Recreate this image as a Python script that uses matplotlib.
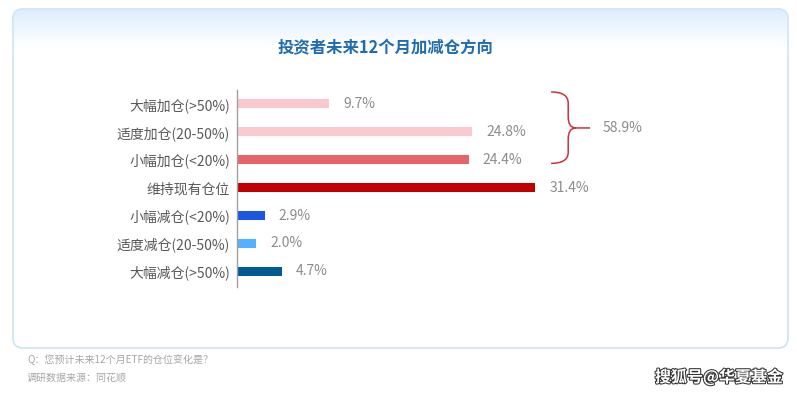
import numpy as np
import matplotlib.pyplot as plt
from matplotlib.patches import FancyBboxPatch, PathPatch
from matplotlib.path import Path
import matplotlib.patheffects as pe

plt.rcParams['font.family'] = ['Noto Sans CJK SC', 'DejaVu Sans']

categories = ['大幅加仓(>50%)', '适度加仓(20-50%)', '小幅加仓(<20%)', '维持现有仓位',
              '小幅减仓(<20%)', '适度减仓(20-50%)', '大幅减仓(>50%)']
values = [9.7, 24.8, 24.4, 31.4, 2.9, 2.0, 4.7]
group_total = 58.9  # sum of the three "add" groups
title = '投资者未来12个月加减仓方向'
footnotes = ['Q：您预计未来12个月ETF的仓位变化是？', '调研数据来源：同花顺']
watermark = '搜狐号@华夏基金'

bar_colors = ['#f8c8cc', '#f9cbd0', '#e8646c', '#c00000', '#1a56e0', '#55b0ff', '#005a94']

W, H = 797, 394
fig = plt.figure(figsize=(W / 100, H / 100), dpi=100)

# background layer in pixel coordinates
bg = fig.add_axes([0, 0, 1, 1])
bg.set_xlim(0, W)
bg.set_ylim(H, 0)
bg.axis('off')

card = FancyBboxPatch((13, 9), 775, 339, boxstyle='round,pad=0,rounding_size=10',
                      facecolor='white', edgecolor='#d2e7f5', linewidth=1.2)
bg.add_patch(card)
grad = np.linspace(0, 1, 100).reshape(-1, 1)
top_col = np.array([0.87, 0.93, 1.0])
img = top_col + (1 - top_col) * np.clip(grad * 1.2, 0, 1)[..., None]
im = bg.imshow(img, extent=(13, 788, 55, 9), aspect='auto', zorder=2)
im.set_clip_path(card)
bg.add_patch(FancyBboxPatch((13, 9), 775, 339, boxstyle='round,pad=0,rounding_size=10',
                            facecolor='none', edgecolor='#d2e7f5', linewidth=1.2, zorder=3))

bg.text(W / 2 - 13, 48, title, ha='center', va='center', fontsize=11.8,
        color='#1f6cb0', fontweight='bold', zorder=4)
bg.text(27, 360, footnotes[0], ha='left', va='center', fontsize=7.2, color='#a6a6a6')
bg.text(27, 378, footnotes[1], ha='left', va='center', fontsize=7.2, color='#a6a6a6')
bg.text(783, 377, watermark, ha='right', va='center', fontsize=11.5, color='white',
        fontweight='bold',
        path_effects=[pe.withStroke(linewidth=1.5, foreground='#333333')])

# main bar chart
x0, x1 = 237, 237 + 9.49 * 40
ytop, ybot = 90, 287
ax = fig.add_axes([x0 / W, 1 - ybot / H, (x1 - x0) / W, (ybot - ytop) / H])
ax.patch.set_alpha(0)
ypos = np.arange(len(categories))
ax.barh(ypos, values, height=0.32, color=bar_colors)
ax.set_xlim(0, 40)
ax.set_ylim(6.56, -0.5)
ax.set_yticks(ypos)
ax.set_yticklabels(categories, fontsize=10, color='#595959')
ax.tick_params(axis='y', length=0, pad=5)
ax.set_xticks([])
for s in ['top', 'right', 'bottom']:
    ax.spines[s].set_visible(False)
ax.spines['left'].set_color('#a0a0a0')
ax.spines['left'].set_linewidth(1)

for y, v in zip(ypos, values):
    ax.text(v + 1.5, y, f'{v}%', ha='left', va='center', fontsize=10, color='#8c8c8c')

# curly brace for the three "add" groups
yt, yb, ym = -0.43, 2.13, 0.86
xl, xm, xt = 33.1, 34.9, 37.2
verts = [(xl, yt), (xm, yt), (xm, yt + 0.4), (xm, ym - 0.4),
         (xm, ym), (xm + 0.8, ym), (xt, ym),
         (xm + 0.8, ym), (xm, ym), (xm, ym + 0.4),
         (xm, yb - 0.4), (xm, yb), (xl, yb)]
codes = [Path.MOVETO, Path.CURVE3, Path.CURVE3, Path.LINETO,
         Path.CURVE3, Path.CURVE3, Path.LINETO,
         Path.MOVETO, Path.CURVE3, Path.CURVE3,
         Path.LINETO, Path.CURVE3, Path.CURVE3]
ax.add_patch(PathPatch(Path(verts, codes), facecolor='none', edgecolor='#c8323c',
                       linewidth=1.1, clip_on=False))
ax.text(xt + 1.3, ym, f'{group_total}%', ha='left', va='center', fontsize=10,
        color='#8c8c8c', clip_on=False)

fig.savefig('out.png', dpi=100)
